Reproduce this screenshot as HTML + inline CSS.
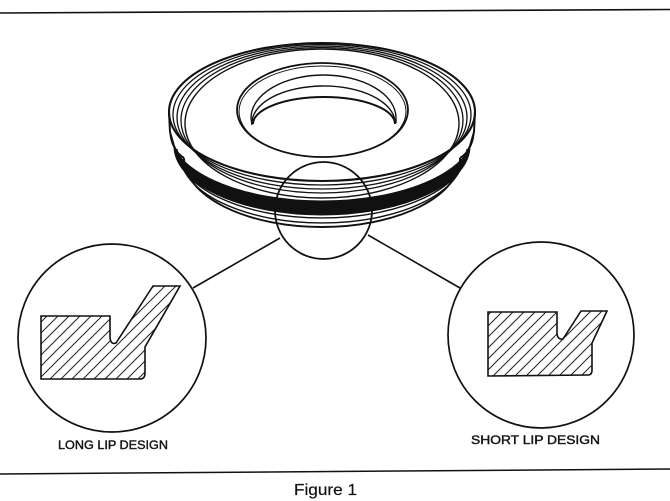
<!DOCTYPE html>
<html><head><meta charset="utf-8"><style>
html,body{margin:0;padding:0;background:#fff;}
svg{display:block;}
text{font-family:"Liberation Sans",Arial,sans-serif;fill:#111;}
</style></head><body>
<svg width="670" height="501" viewBox="0 0 670 501" xmlns="http://www.w3.org/2000/svg">
<defs>
<pattern id="hatch" patternUnits="userSpaceOnUse" width="11" height="11">
<path d="M-1,1 L1,-1 M0,11 L11,0 M10,12 L12,10" stroke="#222" stroke-width="1" fill="none"/>
</pattern>
</defs>
<rect width="670" height="501" fill="#fff"/>
<!-- frame lines -->
<line x1="0" y1="13" x2="670" y2="9.5" stroke="#111" stroke-width="1.6"/>
<line x1="0" y1="474" x2="670" y2="469" stroke="#111" stroke-width="1.5"/>

<g fill="none" stroke="#111">
<!-- band -->
<path d="M170,132 A152,69 0 0 0 474,132 L470,146 A148,69 0 0 1 174,146 Z" fill="#111" stroke="#111" stroke-width="1"/>
<!-- lower lines -->
<path d="M177,149 A145,69 0 0 0 467,149" stroke-width="1.4"/>
<path d="M180,154 A142,69 0 0 0 464,154" stroke-width="1.4"/>
<path d="M184,158 A138,69 0 0 0 460,158" stroke-width="1.9"/>
<!-- silhouette sides -->
<path d="M169,112 L170,132 L174,146 Q177,154 184,158" stroke-width="2"/>
<path d="M475,112 L474,132 L470,146 Q467,154 460,158" stroke-width="2"/>
<!-- top rim rings -->
<ellipse cx="322" cy="112" rx="153" ry="69" stroke-width="2.1"/>
<ellipse cx="322" cy="114.75" rx="149" ry="70.25" stroke-width="1.3"/>
<ellipse cx="322" cy="117.5" rx="145" ry="71.5" stroke-width="1.3"/>
<ellipse cx="322" cy="120.25" rx="141" ry="72.75" stroke-width="1.3"/>
<ellipse cx="322" cy="123.5" rx="137" ry="74.5" stroke-width="1.4"/>
<!-- hole -->
<ellipse cx="322.5" cy="110" rx="85.5" ry="47" stroke-width="1.8"/>
<ellipse cx="322.5" cy="111.5" rx="83.5" ry="45.5" stroke-width="1"/>
<path d="M252,125 L251,118 A72.5,43 0 0 1 396,118 L396,123" stroke-width="1.4"/>
<path d="M252,124 A71.5,37 0 0 1 395,122" stroke-width="1.4"/>
<path d="M253,124 A71,27 0 0 1 395,124" stroke-width="2"/>
<!-- magnifier circle -->
<circle cx="323.5" cy="210.5" r="48.5" stroke-width="1.8"/>
<!-- connectors -->
<line x1="193" y1="288" x2="280" y2="238" stroke-width="1.6"/>
<line x1="368" y1="235" x2="460" y2="288" stroke-width="1.6"/>
<!-- detail circles -->
<circle cx="112" cy="338" r="94" stroke-width="1.7"/>
<circle cx="541" cy="335" r="93" stroke-width="1.7"/>
</g>

<!-- long lip section -->
<path d="M41,316 L110,316 L110,338 Q111,345 116,343 L153,286 L180,286 L145,347 L145,373 Q145,379 140,379 L41,379 Z" fill="url(#hatch)" stroke="#111" stroke-width="1.6"/>
<!-- short lip section -->
<path d="M488,312 L557,312 L557,334 Q558,340 563,339 L581,311 L607,311 L592,343 L592,370 Q592,375 588,375 L488,376 Z" fill="url(#hatch)" stroke="#111" stroke-width="1.6"/>

<text x="58" y="449" font-size="12" textLength="110" lengthAdjust="spacingAndGlyphs" stroke="#111" stroke-width="0.4">LONG LIP DESIGN</text>
<text x="471" y="444" font-size="12" textLength="129" lengthAdjust="spacingAndGlyphs" stroke="#111" stroke-width="0.4">SHORT LIP DESIGN</text>
<text x="294" y="495" font-size="16" textLength="63" lengthAdjust="spacingAndGlyphs" stroke="#111" stroke-width="0.2">Figure 1</text>
</svg>
</body></html>
